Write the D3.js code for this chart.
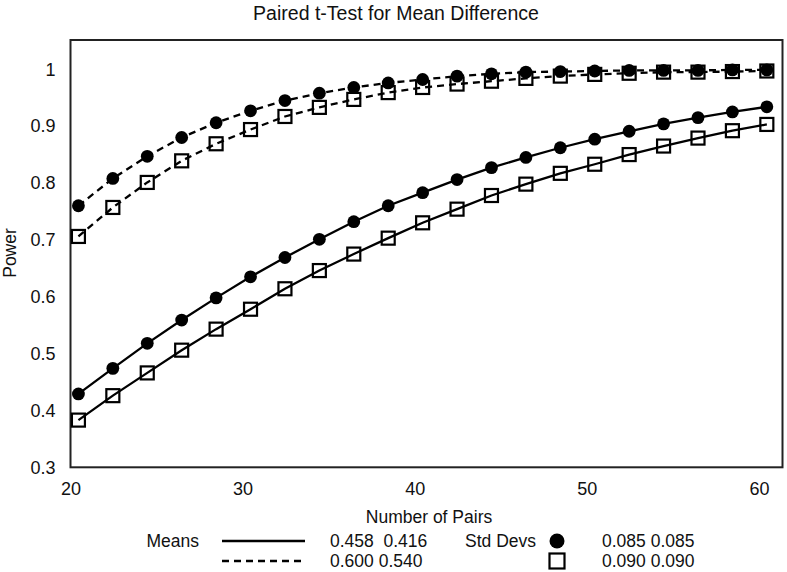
<!DOCTYPE html>
<html>
<head>
<meta charset="utf-8">
<script src="https://cdn.jsdelivr.net/npm/d3@7"></script>
<style>
  html, body { margin: 0; padding: 0; background: #fff; }
  svg { display: block; font-family: "Liberation Sans", Arial, sans-serif; }
</style>
</head>
<body>
<svg id="chart" width="787" height="572"></svg>
<script>
// ---- Data ----
const pairs = [20,22,24,26,28,30,32,34,36,38,40,42,44,46,48,50,52,54,56,58,60];
const powerSolidCircle = [0.429,0.474,0.518,0.559,0.598,0.635,0.669,0.701,0.732,0.760,0.783,0.806,0.827,0.845,0.862,0.877,0.891,0.904,0.915,0.925,0.934];
const powerSolidSquare = [0.383,0.426,0.466,0.506,0.543,0.578,0.614,0.646,0.675,0.703,0.730,0.754,0.778,0.798,0.817,0.833,0.850,0.865,0.879,0.892,0.903];
const powerDashCircle  = [0.760,0.808,0.847,0.880,0.906,0.927,0.945,0.958,0.968,0.976,0.982,0.988,0.992,0.995,0.996,0.997,0.998,0.998,0.998,0.999,0.999];
const powerDashSquare  = [0.706,0.757,0.801,0.839,0.869,0.894,0.917,0.933,0.947,0.959,0.968,0.974,0.979,0.984,0.988,0.991,0.993,0.995,0.995,0.996,0.997];
const xTicks = [20,30,40,50,60];
const yTicks = [0.3,0.4,0.5,0.6,0.7,0.8,0.9,1];
const meansLabels = ["0.458  0.416", "0.600 0.540"];
const sdLabels = ["0.085 0.085", "0.090 0.090"];

const series = [
  { values: powerSolidCircle, dash: null, marker: "circle" },
  { values: powerSolidSquare, dash: null, marker: "square" },
  { values: powerDashCircle,  dash: "7,5", marker: "circle" },
  { values: powerDashSquare,  dash: "7,5", marker: "square" }
];

// ---- Layout ----
const L = 70.5, R = 782.5, T = 40, B = 467.3;
const xOffset = 0.46; // points sit slightly right of the tick values, as in the reference
const x = d3.scaleLinear().domain([20, 61.37]).range([L, R]);
const y = d3.scaleLinear().domain([0.3, 1.0515]).range([B, T]);

const svg = d3.select("#chart");

// title
svg.append("text").attr("x", 396).attr("y", 20).attr("text-anchor", "middle")
  .attr("font-size", 19.5).attr("fill", "#111").text("Paired t-Test for Mean Difference");

// axes (labels only, no tick marks)
const xAxis = svg.append("g").attr("transform", `translate(0,${B})`)
  .call(d3.axisBottom(x).tickValues(xTicks).tickSize(0).tickPadding(0).tickFormat(d3.format("d")));
xAxis.select(".domain").remove();
xAxis.selectAll("text").attr("font-size", 18).attr("fill", "#111").attr("dy", null).attr("y", 28)
  .attr("font-family", "Liberation Sans, Arial, sans-serif");

const yAxis = svg.append("g").attr("transform", `translate(${L},0)`)
  .call(d3.axisLeft(y).tickValues(yTicks).tickSize(0).tickPadding(15).tickFormat(d => d === 1 ? "1" : d3.format(".1f")(d)));
yAxis.select(".domain").remove();
yAxis.selectAll("text").attr("font-size", 18).attr("fill", "#111")
  .attr("font-family", "Liberation Sans, Arial, sans-serif");

// frame
svg.append("rect").attr("x", L).attr("y", T).attr("width", R - L).attr("height", B - T)
  .attr("fill", "none").attr("stroke", "#222").attr("stroke-width", 2);

// axis titles
svg.append("text").attr("x", 429).attr("y", 523).attr("text-anchor", "middle")
  .attr("font-size", 17.5).attr("fill", "#111").text("Number of Pairs");
svg.append("text").attr("transform", "translate(16,253) rotate(-90)").attr("text-anchor", "middle")
  .attr("font-size", 17.5).attr("fill", "#111").text("Power");

// series
const line = d3.line().x((d, i) => x(pairs[i] + xOffset)).y(d => y(d));
const S = 13, RAD = 6.4;
series.forEach(s => {
  svg.append("path").datum(s.values).attr("d", line)
    .attr("fill", "none").attr("stroke", "#000").attr("stroke-width", 2.3)
    .attr("stroke-dasharray", s.dash);
  const g = svg.append("g");
  if (s.marker === "circle") {
    g.selectAll("circle").data(s.values).join("circle")
      .attr("cx", (d, i) => x(pairs[i] + xOffset)).attr("cy", d => y(d))
      .attr("r", RAD).attr("fill", "#000");
  } else {
    g.selectAll("rect").data(s.values).join("rect")
      .attr("x", (d, i) => x(pairs[i] + xOffset) - S / 2).attr("y", d => y(d) - S / 2)
      .attr("width", S).attr("height", S)
      .attr("fill", "none").attr("stroke", "#000").attr("stroke-width", 2.2);
  }
});

// legend
const lg = svg.append("g").attr("font-size", 17.5).attr("fill", "#111");
const rows = [541, 561];
lg.append("text").attr("x", 199).attr("y", rows[0] + 6).attr("text-anchor", "end").text("Means");
[null, "7,5"].forEach((dash, i) => {
  lg.append("line").attr("x1", 222).attr("x2", 305).attr("y1", rows[i]).attr("y2", rows[i])
    .attr("stroke", "#000").attr("stroke-width", 2.3).attr("stroke-dasharray", dash);
  lg.append("text").attr("x", 330).attr("y", rows[i] + 6)
    .style("white-space", "pre").text(meansLabels[i]);
  lg.append("text").attr("x", 602).attr("y", rows[i] + 6).text(sdLabels[i]);
});
lg.append("text").attr("x", 465).attr("y", rows[0] + 6).text("Std Devs");
lg.append("circle").attr("cx", 557).attr("cy", rows[0]).attr("r", 7.5).attr("fill", "#000");
lg.append("rect").attr("x", 557 - 7.5).attr("y", rows[1] - 7.5).attr("width", 15).attr("height", 15)
  .attr("fill", "none").attr("stroke", "#000").attr("stroke-width", 2.2);
</script>
</body>
</html>
